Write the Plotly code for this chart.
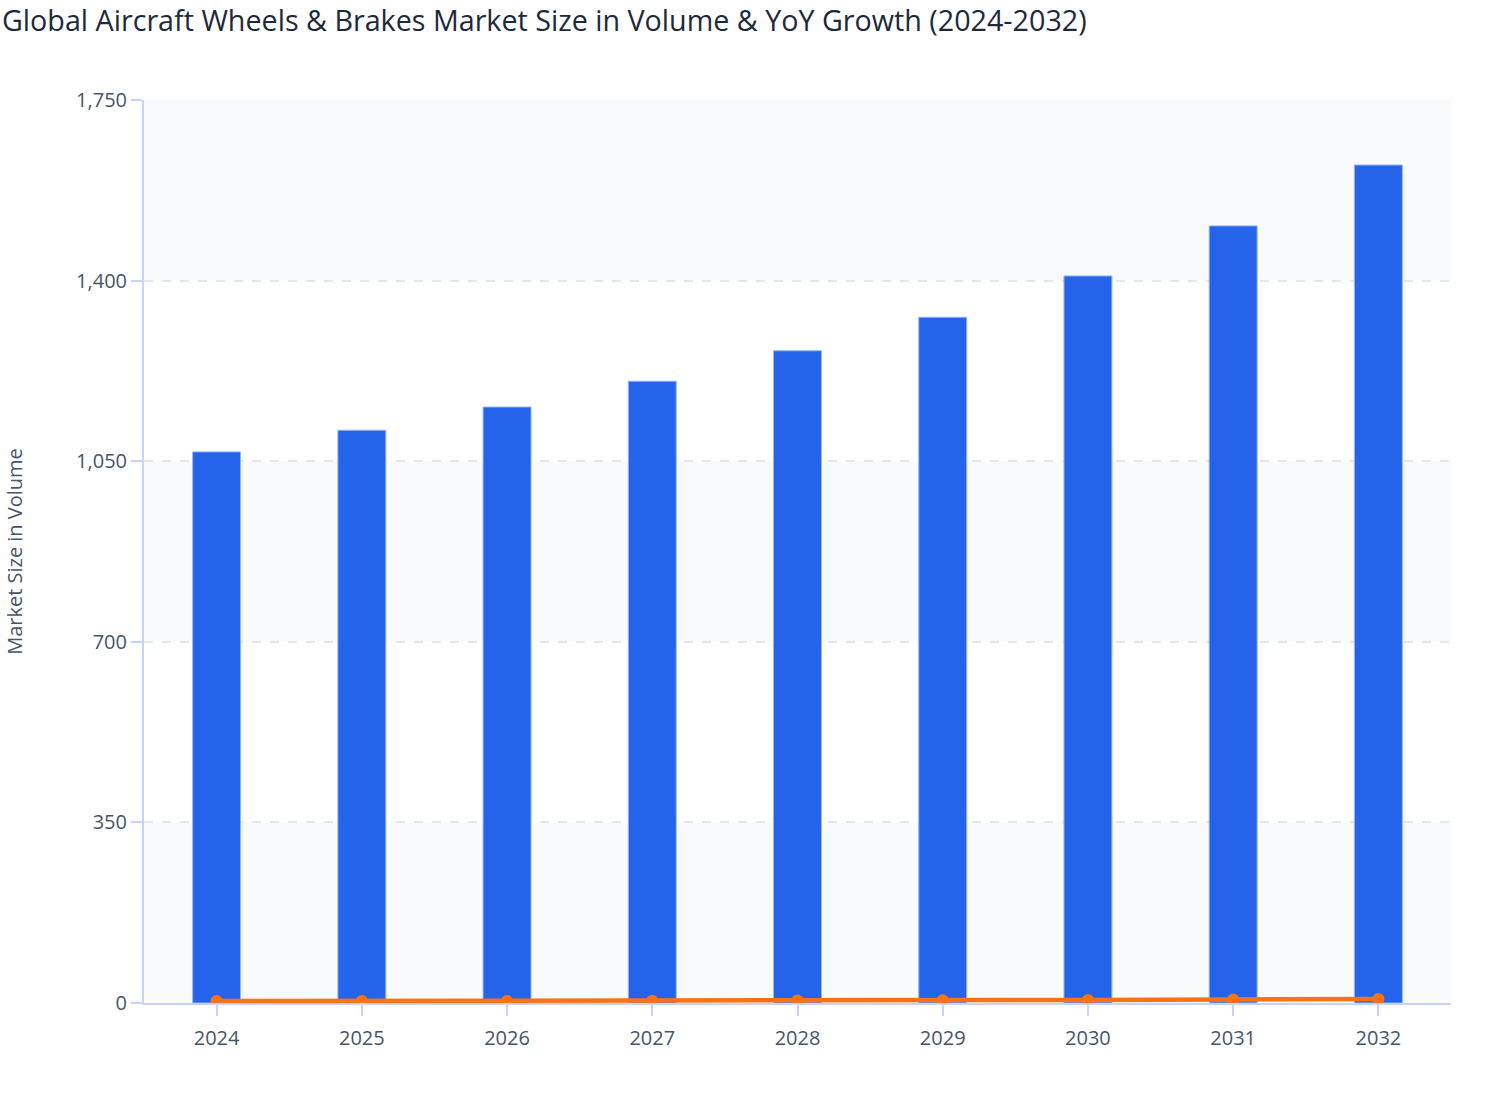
import plotly.graph_objects as go

years = ["2024", "2025", "2026", "2027", "2028", "2029", "2030", "2031", "2032"]
volume = [1068, 1110, 1155, 1205, 1264, 1329, 1409, 1506, 1624]
yoy_growth = [3.8, 3.9, 4.1, 4.3, 4.9, 5.2, 6.0, 6.9, 7.8]
y_ticks = [0, 350, 700, 1050, 1400, 1750]

axis_col = "#C7D2FE"
grid_col = "#E2E8F0"
text_col = "#475569"

fig = go.Figure()
fig.add_trace(go.Bar(
    x=years, y=volume, name="Market Size in Volume",
    marker=dict(color="#2563EB", line=dict(color="#93B4F5", width=1)),
    width=0.33,
))
fig.add_trace(go.Scatter(
    x=years, y=yoy_growth, name="YoY Growth", mode="lines+markers",
    line=dict(color="#F97316", width=4.5),
    marker=dict(color="#F97316", size=12),
))

shapes = []
for i in range(len(y_ticks) - 1):
    if i % 2 == 0:
        shapes.append(dict(type="rect", xref="paper", yref="y", x0=0, x1=1,
                           y0=y_ticks[i], y1=y_ticks[i + 1],
                           fillcolor="#F8FAFC", line=dict(width=0), layer="below"))

fig.update_layout(
    width=1508, height=1120,
    margin=dict(l=144, r=57, t=100, b=117),
    paper_bgcolor="white", plot_bgcolor="white",
    font=dict(family="Open Sans", size=20, color=text_col),
    title=dict(text="Global Aircraft Wheels & Brakes Market Size in Volume & YoY Growth (2024-2032)",
               x=0, xref="container", xanchor="left", y=0.9815, yanchor="middle",
               pad=dict(l=2),
               font=dict(family="Open Sans", size=28.7, color="#1E293B")),
    showlegend=False,
    shapes=shapes,
)
fig.update_xaxes(
    type="category", range=[-0.5, 8.5],
    showline=True, linecolor=axis_col, linewidth=2,
    ticks="outside", tickcolor=axis_col, ticklen=11, tickwidth=2,
    showgrid=False, tickfont=dict(size=20, color=text_col),
    ticklabelstandoff=5, automargin=False,
)
fig.update_yaxes(
    range=[0, 1750], tickvals=y_ticks, tickformat=",",
    showline=True, linecolor=axis_col, linewidth=2,
    ticks="outside", tickcolor=axis_col, ticklen=11, tickwidth=2,
    showgrid=True, gridcolor=grid_col, griddash="dash", gridwidth=2,
    zeroline=False, automargin=False,
    title=dict(text="Market Size in Volume", font=dict(size=20, color=text_col), standoff=48),
    tickfont=dict(size=20, color=text_col),
)

fig.write_html("out.html", config={"displayModeBar": False},
               post_script="document.body.style.margin='0';")
